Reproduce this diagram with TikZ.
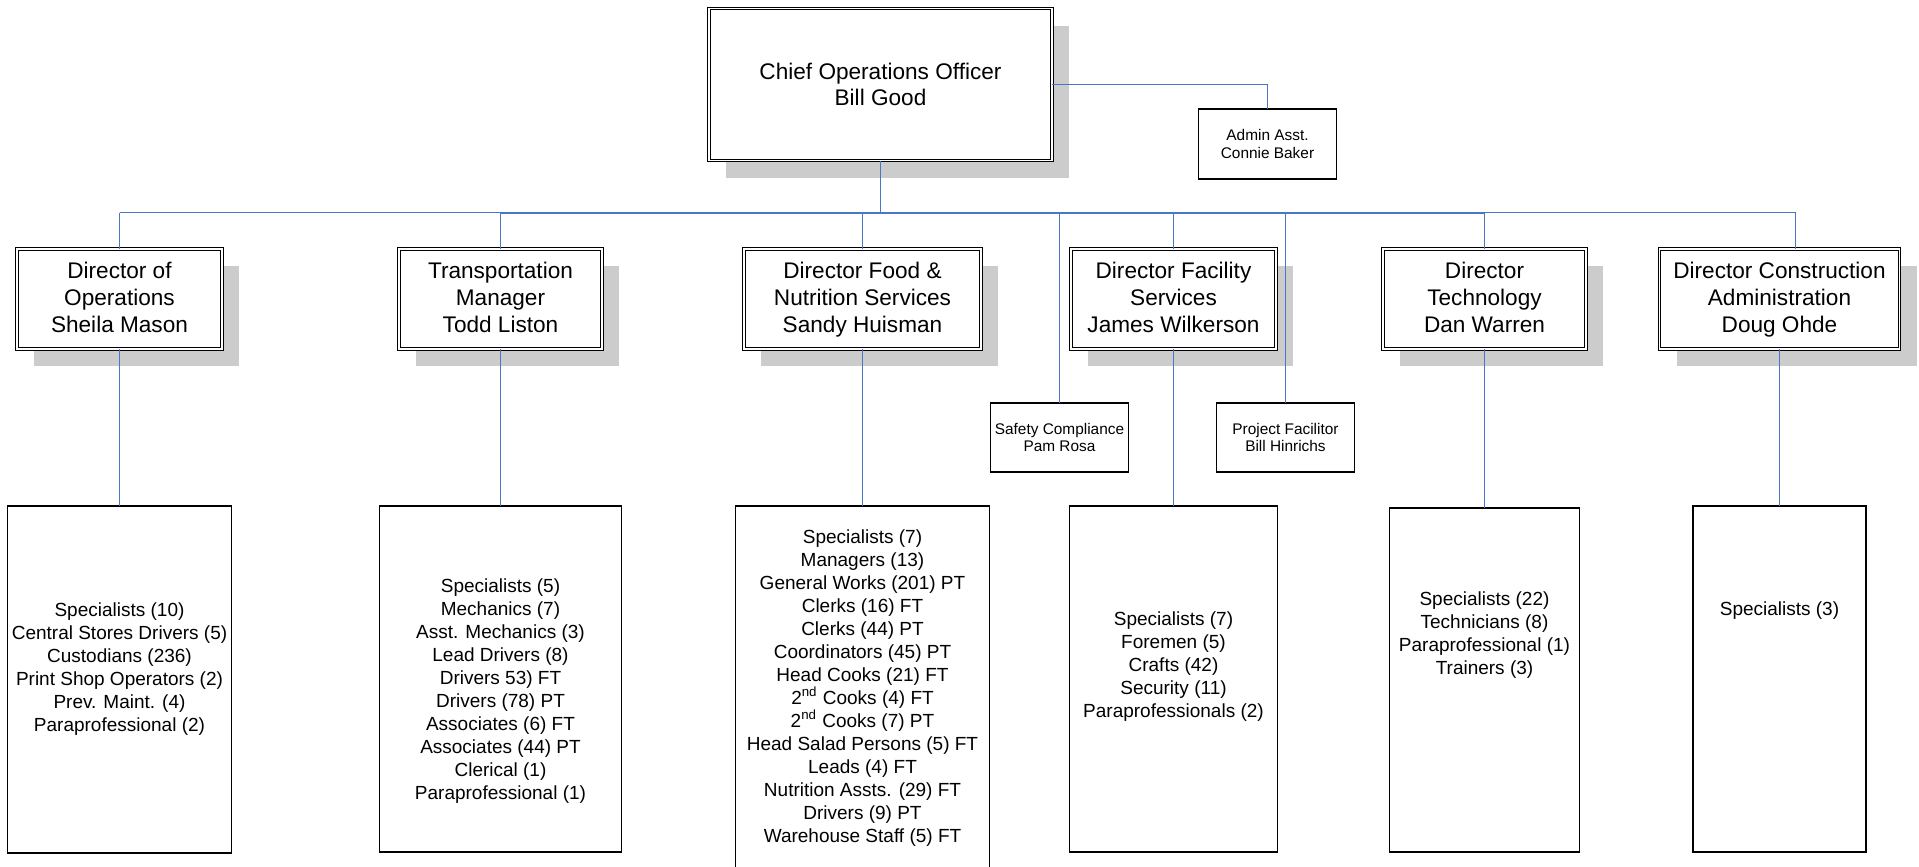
\documentclass[tikz,border=0pt]{standalone}
\usepackage{fontspec}
\setmainfont{Liberation Sans}
\usetikzlibrary{shadows}
\definecolor{connblue}{RGB}{74,118,200}
\definecolor{shadegray}{RGB}{204,204,204}
\newcommand{\topstrut}{\rule{0pt}{10.65pt}}
\begin{document}
\begin{tikzpicture}[x=0.5pt,y=-0.5pt,
  dirbox/.style={draw=black, double=white, line width=0.5pt, double distance=0.9pt,
    fill=white, inner sep=0pt, outer sep=0pt, align=center,
    general shadow={fill=shadegray, shadow xshift=8.5pt, shadow yshift=-8.5pt},
    font=\fontsize{11.3}{13.5}\selectfont, minimum height=50pt},
  listbox/.style={draw=black, line width=0.65pt, fill=white, inner sep=0pt, outer sep=0pt,
    minimum height=173pt},
  listtext/.style={align=center, inner sep=0pt, font=\fontsize{9.5}{11.5}\selectfont},
  smallbox/.style={draw=black, line width=0.65pt, fill=white, inner sep=0pt, outer sep=0pt,
    align=center, minimum width=69pt, minimum height=34.5pt,
    font=\fontsize{7.7}{8.9}\selectfont},
  conn/.style={draw=connblue, line width=0.6pt}]
\useasboundingbox[fill=white] (0,0) rectangle (1919,867);

% top level
\node[dirbox, minimum width=171.5pt, minimum height=76pt,
  font=\fontsize{11.3}{12.9}\selectfont] (coo) at (880.5,84.5) {Chief Operations Officer\\Bill Good};
\node[smallbox, minimum height=35pt] (admin) at (1267.5,144) {Admin Asst.\\Connie Baker};

% directors
\node[dirbox, minimum width=102.5pt] (d1) at (119.5,299) {\topstrut Director of\\Operations\\Sheila Mason\strut};
\node[dirbox, minimum width=101.5pt] (d2) at (500.5,299) {\topstrut Transportation\\Manager\\Todd Liston\strut};
\node[dirbox, minimum width=118.5pt] (d3) at (862.5,299) {\topstrut Director Food \&\\Nutrition Services\\Sandy Huisman\strut};
\node[dirbox, minimum width=102.2pt] (d4) at (1173.5,299) {\topstrut Director Facility\\Services\\James Wilkerson\strut};
\node[dirbox, minimum width=101.6pt] (d5) at (1484.5,299) {\topstrut Director\\Technology\\Dan Warren\strut};
\node[dirbox, minimum width=120pt] (d6) at (1779.5,299) {\topstrut Director Construction\\Administration\\Doug Ohde\strut};

% staff boxes
\node[smallbox] (safety) at (1059.5,437.5) {Safety Compliance\\Pam Rosa};
\node[smallbox, minimum width=69.3pt] (project) at (1285.5,437.5) {Project Facilitor\\Bill Hinrichs};

% bottom boxes
\node[listbox, minimum width=112pt, minimum height=173.5pt] (b1) at (119.5,679.5) {};
\node[listbox, minimum width=121pt] (b2) at (500.5,679) {};
\node[listbox, minimum width=127.25pt, minimum height=182pt] (b3) at (862.5,688) {};
\node[listbox, minimum width=104.25pt] (b4) at (1173.5,679) {};
\node[listbox, minimum width=95.25pt, minimum height=172pt] (b5) at (1484.5,680) {};
\node[listbox, minimum width=86.5pt] (b6) at (1779.5,679) {};

\node[listtext] (t1) at (119.5,669) {Specialists (10)\\Central Stores Drivers (5)\\Custodians (236)\\Print Shop Operators (2)\\Prev. Maint. (4)\\Paraprofessional (2)};
\node[listtext] (t2) at (500.5,691) {Specialists (5)\\Mechanics (7)\\Asst. Mechanics (3)\\Lead Drivers (8)\\Drivers 53) FT\\Drivers (78) PT\\Associates (6) FT\\Associates (44) PT\\Clerical (1)\\Paraprofessional (1)};
\node[listtext] (t3) at (862.5,688) {Specialists (7)\\Managers (13)\\General Works (201) PT\\Clerks (16) FT\\Clerks (44) PT\\Coordinators (45) PT\\Head Cooks (21) FT\\2\textsuperscript{nd} Cooks (4) FT\\2\textsuperscript{nd} Cooks (7) PT\\Head Salad Persons (5) FT\\Leads (4) FT\\Nutrition Assts. (29) FT\\Drivers (9) PT\\Warehouse Staff (5) FT};
\node[listtext] (t4) at (1173.5,667) {Specialists (7)\\Foremen (5)\\Crafts (42)\\Security (11)\\Paraprofessionals (2)};
\node[listtext] (t5) at (1484.5,635) {Specialists (22)\\Technicians (8)\\Paraprofessional (1)\\Trainers (3)};
\node[listtext] (t6) at (1779.5,611) {Specialists (3)};

% connectors
\coordinate (busL) at (119.5,212.5);
\coordinate (busR) at (1795.5,212.5);
\draw[conn] (busL) -- (busR);
\draw[conn, line width=1pt] (d2.north |- busL) -- (d5.north |- busL);
\draw[conn] (coo.south) -- (coo.south |- busL);
\draw[conn] (coo.east) -| (admin.north);
\foreach \d in {d1,d2,d3,d4,d5}{\draw[conn] (\d.north) -- (\d.north |- busL);}
\draw[conn] (busR) -- (busR |- d6.north);
\draw[conn] (safety.north) -- (safety.north |- busL);
\draw[conn] (project.north) -- (project.north |- busL);
\foreach \i in {1,...,6}{\draw[conn] (d\i.south) -- (b\i.north);}
\end{tikzpicture}
\end{document}
